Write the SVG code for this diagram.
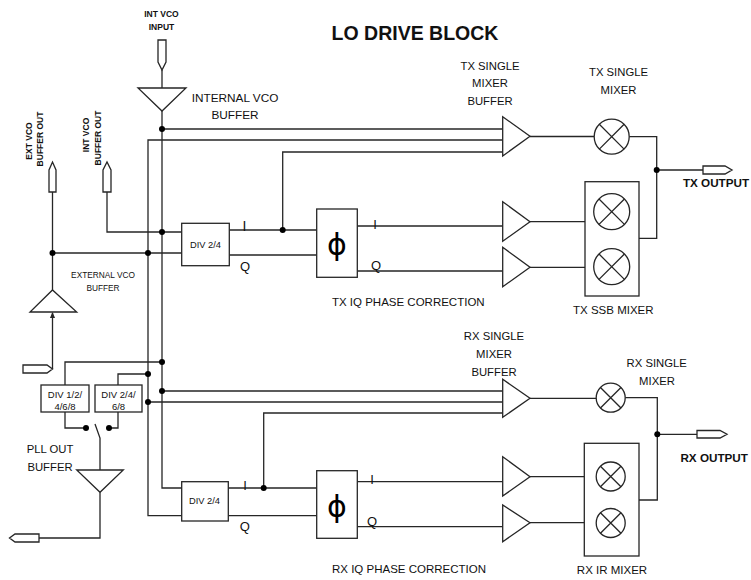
<svg xmlns="http://www.w3.org/2000/svg" width="751" height="580" viewBox="0 0 751 580">
<style>
.w{fill:none;stroke:#262626;stroke-width:1.3}
.s{fill:#fff;stroke:#262626;stroke-width:1.3}
.d{fill:#000}
.t{font-family:"Liberation Sans",Arial,sans-serif;fill:#111;text-anchor:middle}
.b{font-weight:bold}
.ph{font-family:"DejaVu Sans",sans-serif;fill:#000;text-anchor:middle;font-size:30px}
</style>
<defs>
<marker id="ar" viewBox="0 0 6 6" refX="5" refY="3" markerWidth="5" markerHeight="5" orient="auto"><path d="M0,0.5 L6,3 L0,5.5 Z" fill="#262626"/></marker>
</defs>
<rect width="751" height="580" fill="#fff"/>
<text class="t b" x="415" y="40" font-size="19.5">LO DRIVE BLOCK</text>

<g id="connectors">
<path class="w" d="M162,70 V88"/>
<path class="w" d="M162,111 V488 H181.7"/>
<path class="w" d="M502.7,140 H148 V515.7 H181.7"/>
<path class="w" d="M162,129 H502.7"/>
<path class="w" d="M282.7,230 V152 H502.7"/>
<path class="w" d="M107,192 V232 H181.7"/>
<path class="w" d="M52.5,192 V290"/>
<path class="w" d="M52.5,253 H181.7"/>
<path class="w" d="M52.5,369 V313" marker-end="url(#ar)"/>
<path class="w" d="M229.3,230 H316.7 M229.3,255 H316.7"/>
<path class="w" d="M357.3,226 H502.7 M357.3,271 H502.7"/>
<path class="w" d="M530,136.5 H594.2 M530,221.7 H585 M530,267.3 H585"/>
<path class="w" d="M629.2,136.7 H656.7 V238.3 H639 M656.7,170 H703"/>
<path class="w" d="M65,385 V362 H162 M118,385 V374 H148"/>
<path class="w" d="M162,391 H502.7 M148,402 H502.7 M263.7,488 V413 H502.7"/>
<path class="w" d="M65,412 V428 H86 M118,412 V428 H109"/>
<path class="w" d="M95,424 L100,438 V470"/>
<path class="w" d="M100,492.3 V538 H39"/>
<path class="w" d="M228.3,488 H316.7 M228.3,515.7 H316.7"/>
<path class="w" d="M357.3,481.7 H502.7 M357.3,526.7 H502.7"/>
<path class="w" d="M530,398.3 H596.2 M530,476.7 H584.3 M530,522.7 H584.3"/>
<path class="w" d="M625.2,397.7 H657.3 V500 H639 M657.3,434.3 H697"/>
<g class="d">
<circle cx="162" cy="129" r="3"/><circle cx="162" cy="232" r="3"/>
<circle cx="148" cy="253" r="3"/><circle cx="52.5" cy="253" r="3"/>
<circle cx="282.7" cy="230" r="3"/><circle cx="656.7" cy="170" r="3"/>
<circle cx="162" cy="362" r="3"/><circle cx="148" cy="374" r="3"/>
<circle cx="162" cy="391" r="3"/><circle cx="148" cy="402" r="3"/>
<circle cx="263.7" cy="488" r="3"/><circle cx="86" cy="428" r="3"/>
<circle cx="109" cy="428" r="3"/><circle cx="657.3" cy="434.3" r="3"/>
</g>
<text class="t" x="244.5" y="231" font-size="14">I</text>
<text class="t" x="245" y="271" font-size="13">Q</text>
<text class="t" x="375" y="228.5" font-size="13">I</text>
<text class="t" x="376" y="270" font-size="13">Q</text>
<text class="t" x="245" y="490" font-size="13">I</text>
<text class="t" x="244.7" y="531" font-size="13">Q</text>
<text class="t" x="372" y="483.5" font-size="13">I</text>
<text class="t" x="372" y="525.5" font-size="13">Q</text>
</g>

<g id="int-vco-input">
<polygon class="s" points="158,40 166,40 166,62 162,70 158,62"/>
<text class="t b" x="161.5" y="17" font-size="8.5">INT VCO</text>
<text class="t b" x="161.5" y="29.7" font-size="8.5">INPUT</text>
</g>
<g id="internal-vco-buffer">
<polygon class="s" points="138,88 186,88 162,111"/>
<text class="t" x="235" y="101.5" font-size="11.8">INTERNAL VCO</text>
<text class="t" x="235" y="119" font-size="11.8">BUFFER</text>
</g>
<g id="ext-vco-buffer-out">
<polygon class="s" points="49,192 49,170 52.5,162 56,170 56,192"/>
<text class="t b" font-size="8.5" transform="translate(31.5,141) rotate(-90)">EXT VCO</text>
<text class="t b" font-size="8.5" transform="translate(43,139) rotate(-90)">BUFFER OUT</text>
</g>
<g id="int-vco-buffer-out">
<polygon class="s" points="103,192 103,170 107,162 111,170 111,192"/>
<text class="t b" font-size="8.5" transform="translate(89,135) rotate(-90)">INT VCO</text>
<text class="t b" font-size="8.5" transform="translate(101.3,138) rotate(-90)">BUFFER OUT</text>
</g>
<g id="external-vco-buffer">
<polygon class="s" points="30,312 76.7,312 52.5,290"/>
<polygon class="s" points="23,365 47,365 52.5,369 47,373 23,373"/>
<text class="t" x="103" y="278" font-size="8.3">EXTERNAL VCO</text>
<text class="t" x="103" y="290.5" font-size="8.3">BUFFER</text>
</g>
<g id="tx-div">
<rect class="s" x="181.7" y="223.3" width="47.6" height="42.4"/>
<text class="t" x="205.5" y="248" font-size="9.3">DIV 2/4</text>
</g>
<g id="tx-phase">
<rect class="s" x="316.7" y="209" width="40.6" height="68.3"/>
<text class="ph" x="337" y="255">ϕ</text>
<text class="t" x="408.3" y="306" font-size="11.5">TX IQ PHASE CORRECTION</text>
</g>
<g id="tx-single-buffer">
<polygon class="s" points="502.7,116.7 502.7,156 530,136.3"/>
<text class="t" x="490" y="70" font-size="11.3">TX SINGLE</text>
<text class="t" x="490" y="87.3" font-size="11.3">MIXER</text>
<text class="t" x="490" y="105" font-size="11.3">BUFFER</text>
</g>
<g id="tx-ssb-buffers">
<polygon class="s" points="502.7,201.7 502.7,241.3 530,221.7"/>
<polygon class="s" points="502.7,247.3 502.7,286.7 530,267.3"/>
</g>
<g id="tx-single-mixer">
<circle class="s" cx="611.7" cy="136.7" r="17.5"/>
<path class="w" d="M599.3,124.3 L624.1,149.1 M599.3,149.1 L624.1,124.3"/>
<text class="t" x="618.5" y="76" font-size="11.3">TX SINGLE</text>
<text class="t" x="618.5" y="93.5" font-size="11.3">MIXER</text>
</g>
<g id="tx-ssb-mixer">
<rect class="s" x="585" y="181.7" width="54" height="114.3"/>
<circle class="s" cx="611.7" cy="211.7" r="18"/>
<path class="w" d="M599,199 L624.4,224.4 M599,224.4 L624.4,199"/>
<circle class="s" cx="611.7" cy="266.7" r="18"/>
<path class="w" d="M599,254 L624.4,279.4 M599,279.4 L624.4,254"/>
<text class="t" x="613.3" y="314" font-size="11.5">TX SSB MIXER</text>
</g>
<g id="tx-output">
<polygon class="s" points="703,166 725,166 732,170 725,174 703,174"/>
<text class="t b" x="716" y="187.3" font-size="11.7">TX OUTPUT</text>
</g>
<g id="div-12468">
<rect class="s" x="41" y="385" width="48" height="27"/>
<text class="t" x="65" y="397.5" font-size="9.5">DIV 1/2/</text>
<text class="t" x="65" y="410" font-size="9.5">4/6/8</text>
</g>
<g id="div-2468">
<rect class="s" x="95" y="385" width="47" height="27"/>
<text class="t" x="118.5" y="397.5" font-size="9.5">DIV 2/4/</text>
<text class="t" x="118.5" y="410" font-size="9.5">6/8</text>
</g>
<g id="pll-out-buffer">
<polygon class="s" points="76.7,470 123.3,470 100,492.3"/>
<polygon class="s" points="39,534 15,534 9.5,538 15,542 39,542"/>
<text class="t" x="50" y="452.5" font-size="11.3">PLL OUT</text>
<text class="t" x="50" y="470.5" font-size="11.3">BUFFER</text>
</g>
<g id="rx-div">
<rect class="s" x="181.7" y="481.7" width="46.6" height="39.3"/>
<text class="t" x="204.5" y="504" font-size="9.3">DIV 2/4</text>
</g>
<g id="rx-phase">
<rect class="s" x="316.7" y="470.7" width="40.6" height="67.6"/>
<text class="ph" x="337" y="517">ϕ</text>
<text class="t" x="409" y="573" font-size="11.5">RX IQ PHASE CORRECTION</text>
</g>
<g id="rx-single-buffer">
<polygon class="s" points="502.7,379.3 502.7,417.3 530,398.3"/>
<text class="t" x="494" y="339.5" font-size="11.3">RX SINGLE</text>
<text class="t" x="494" y="357.5" font-size="11.3">MIXER</text>
<text class="t" x="494" y="376" font-size="11.3">BUFFER</text>
</g>
<g id="rx-ir-buffers">
<polygon class="s" points="502.7,456.7 502.7,496 530,476.7"/>
<polygon class="s" points="502.7,505 502.7,541.7 530,522.7"/>
</g>
<g id="rx-single-mixer">
<circle class="s" cx="610.7" cy="397.7" r="14.5"/>
<path class="w" d="M600.45,387.45 L620.95,407.95 M600.45,407.95 L620.95,387.45"/>
<text class="t" x="656.7" y="366.5" font-size="11.3">RX SINGLE</text>
<text class="t" x="657" y="385" font-size="11.3">MIXER</text>
</g>
<g id="rx-ir-mixer">
<rect class="s" x="584.3" y="443.3" width="54.7" height="112.7"/>
<circle class="s" cx="610.7" cy="476.5" r="14.5"/>
<path class="w" d="M600.45,466.25 L620.95,486.75 M600.45,486.75 L620.95,466.25"/>
<circle class="s" cx="610.7" cy="523" r="14.5"/>
<path class="w" d="M600.45,512.75 L620.95,533.25 M600.45,533.25 L620.95,512.75"/>
<text class="t" x="612" y="574.3" font-size="11.5">RX IR MIXER</text>
</g>
<g id="rx-output">
<polygon class="s" points="697,430.5 720,430.5 727,434.3 720,438 697,438"/>
<text class="t b" x="714.2" y="461.5" font-size="11.7">RX OUTPUT</text>
</g>
</svg>
